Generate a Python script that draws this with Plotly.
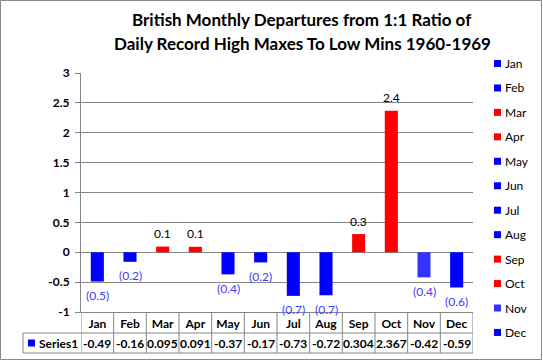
import plotly.graph_objects as go

# ---- data ----
months = ["Jan", "Feb", "Mar", "Apr", "May", "Jun", "Jul", "Aug", "Sep", "Oct", "Nov", "Dec"]
values = [-0.49, -0.16, 0.095, 0.091, -0.37, -0.17, -0.73, -0.72, 0.304, 2.367, -0.42, -0.59]
table_text = ["-0.49", "-0.16", "0.095", "0.091", "-0.37", "-0.17", "-0.73", "-0.72", "0.304", "2.367", "-0.42", "-0.59"]
label_text = ["(0.5)", "(0.2)", "0.1", "0.1", "(0.4)", "(0.2)", "(0.7)", "(0.7)", "0.3", "2.4", "(0.4)", "(0.6)"]
bar_colors = ["#0000ff", "#0000ff", "#ff0000", "#ff0000", "#0000ff", "#0000ff",
              "#0000ff", "#0000ff", "#ff0000", "#ff0000", "#3333ff", "#0000ff"]
series_name = "Series1"
title_lines = ["British Monthly Departures from 1:1 Ratio of",
               "Daily Record High Maxes To Low Mins 1960-1969"]
y_ticks = [-1, -0.5, 0, 0.5, 1, 1.5, 2, 2.5, 3]

# ---- layout geometry (pixels) ----
W, H = 543, 361
L, R, T, B = 81, 473, 73, 312
FONT = "Lato, 'Open Sans', sans-serif"
GRID = "#868686"


def px(x):
    return (x - L) / (R - L)


def py(y):
    return (B - y) / (B - T)


fig = go.Figure()
for m, v, c in zip(months, values, bar_colors):
    fig.add_trace(go.Bar(x=[m], y=[v], name=m, marker=dict(color=c, line=dict(width=0)),
                         width=0.4, showlegend=False, hoverinfo="x+y"))

annotations = []
shapes = []

# data labels
for m, v, t in zip(months, values, label_text):
    annotations.append(dict(x=m, y=v, xref="x", yref="y", text=t, showarrow=False,
                            yanchor="middle", yshift=13 if v > 0 else -14,
                            font=dict(family=FONT, size=12,
                                      color="#000000" if v > 0 else "#3c3cff")))

# title
for i, line in enumerate(title_lines):
    annotations.append(dict(x=px(302), y=py(20 + i * 23.5), xref="paper", yref="paper",
                            text="<b>" + line + "</b>", showarrow=False, yanchor="middle",
                            xanchor="center", font=dict(family=FONT, size=17, color="#000000")))

# data table: values row
for i, (m, t) in enumerate(zip(months, table_text)):
    annotations.append(dict(x=m, y=py(343.5), xref="x", yref="paper", text="<b>" + t + "</b>",
                            showarrow=False, yanchor="middle", xanchor="center",
                            font=dict(family=FONT, size=12, color="#000000")))
# table lines
for k in range(len(months) + 1):
    shapes.append(dict(type="line", xref="x", yref="paper", x0=k - 0.5, x1=k - 0.5,
                       y0=py(312), y1=py(353), line=dict(color=GRID, width=1)))
for yy in (333, 353):
    shapes.append(dict(type="line", xref="paper", yref="paper", x0=px(23), x1=px(R),
                       y0=py(yy), y1=py(yy), line=dict(color=GRID, width=1)))
shapes.append(dict(type="line", xref="paper", yref="paper", x0=px(23), x1=px(23),
                   y0=py(333), y1=py(353), line=dict(color=GRID, width=1)))
# series key in table
shapes.append(dict(type="rect", xref="paper", yref="paper", x0=px(28), x1=px(35),
                   y0=py(339.5), y1=py(346.5), fillcolor="#0000ff", line=dict(width=0)))
annotations.append(dict(x=px(37), y=py(343.5), xref="paper", yref="paper",
                        text="<b>" + series_name + "</b>", showarrow=False, xanchor="left",
                        yanchor="middle", font=dict(family=FONT, size=12, color="#000000")))

# legend (right side)
for i, (m, c) in enumerate(zip(months, bar_colors)):
    yc = 63.5 + i * 24.45
    shapes.append(dict(type="rect", xref="paper", yref="paper", x0=px(494), x1=px(501),
                       y0=py(yc - 3.5), y1=py(yc + 3.5), fillcolor=c, line=dict(width=0)))
    annotations.append(dict(x=px(503), y=py(yc), xref="paper", yref="paper", text=m,
                            showarrow=False, xanchor="left", yanchor="middle",
                            font=dict(family=FONT, size=12, color="#000000")))

# outer frame
shapes.append(dict(type="rect", xref="paper", yref="paper", x0=px(0.5), x1=px(541.5),
                   y0=py(0.5), y1=py(359.5), line=dict(color="#888888", width=1),
                   fillcolor="rgba(0,0,0,0)", layer="below"))

fig.update_layout(
    width=W, height=H,
    margin=dict(l=L, r=W - R, t=T, b=H - B, pad=0),
    paper_bgcolor="white", plot_bgcolor="white",
    barmode="overlay", showlegend=False,
    font=dict(family=FONT, size=12, color="#000000"),
    annotations=annotations, shapes=shapes,
    xaxis=dict(type="category", categoryorder="array", categoryarray=months,
               range=[-0.5, len(months) - 0.5], showline=True, linecolor=GRID, linewidth=1,
               ticks="", showgrid=False, tickfont=dict(family=FONT, size=12, weight="bold"),
               ticklabelstandoff=1, mirror=False),
    yaxis=dict(range=[-1, 3], tickvals=y_ticks, ticktext=[f"{v:g}" for v in y_ticks],
               showgrid=True, gridcolor=GRID, gridwidth=1, zeroline=False,
               showline=True, linecolor=GRID, linewidth=1, ticks="outside", ticklen=5,
               tickcolor=GRID, tickfont=dict(family=FONT, size=12, weight="bold"),
               ticklabelstandoff=3),
)

fig.write_html("out.html", config={"displayModeBar": False},
               post_script="document.body.style.margin='0';document.body.style.overflow='hidden';")
